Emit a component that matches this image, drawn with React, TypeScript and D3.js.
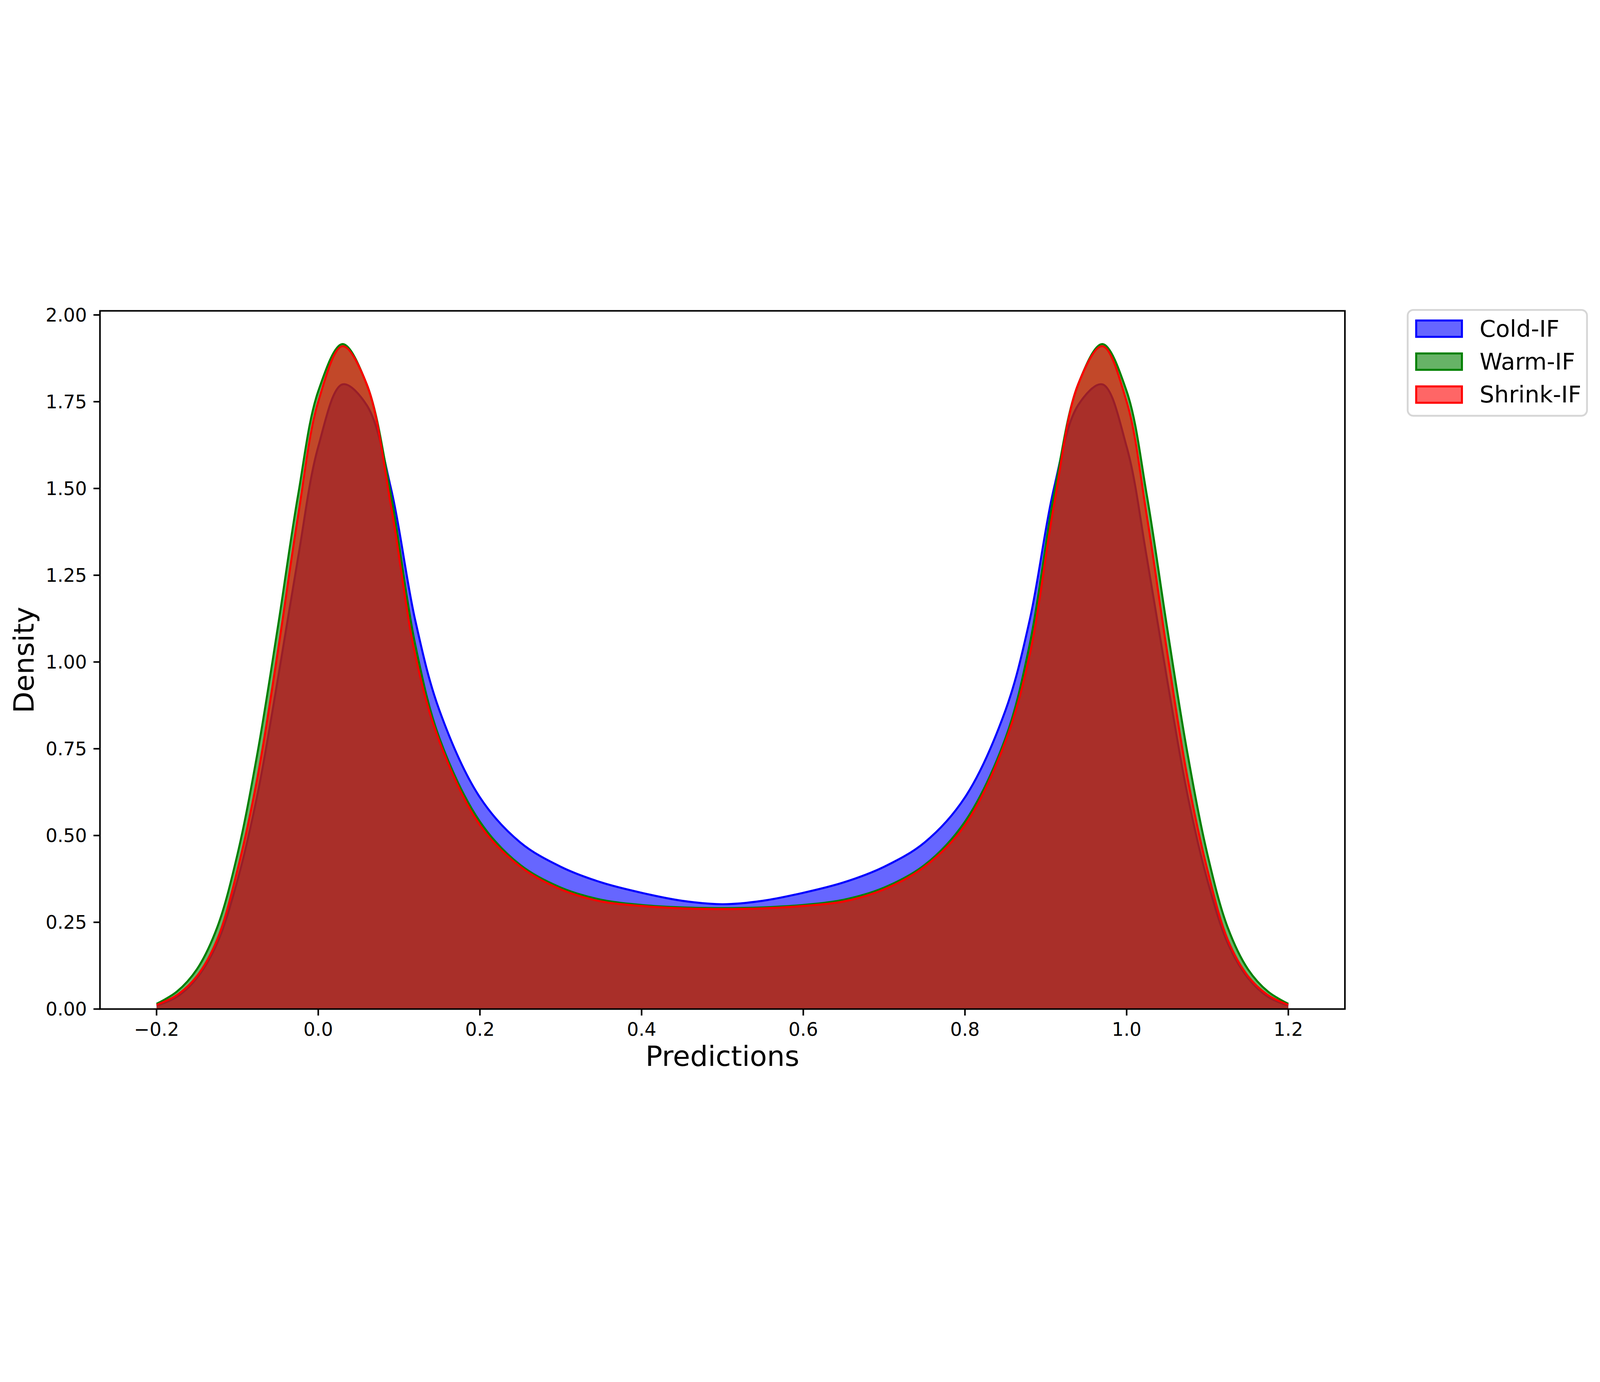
import React from 'react';
import * as d3 from 'd3';

const xGrid = [-0.2, -0.175, -0.15, -0.125, -0.1, -0.075, -0.05, -0.025, 0, 0.03, 0.06, 0.09, 0.12, 0.15, 0.2, 0.25, 0.3, 0.35, 0.4, 0.45, 0.5,
  0.55, 0.6, 0.65, 0.7, 0.75, 0.8, 0.85, 0.88, 0.91, 0.94, 0.97, 1.0, 1.025, 1.05, 1.075, 1.1, 1.125, 1.15, 1.175, 1.2];

const coldIF = [0.01, 0.035, 0.09, 0.19, 0.37, 0.62, 0.95, 1.3, 1.62, 1.8, 1.74, 1.5, 1.12, 0.86, 0.61, 0.48, 0.41, 0.365, 0.335, 0.312, 0.302,
  0.312, 0.335, 0.365, 0.41, 0.48, 0.61, 0.86, 1.12, 1.5, 1.74, 1.8, 1.62, 1.3, 0.95, 0.62, 0.37, 0.19, 0.09, 0.035, 0.01];

const warmIF = [0.015, 0.05, 0.115, 0.235, 0.445, 0.74, 1.1, 1.48, 1.78, 1.916, 1.8, 1.48, 1.05, 0.78, 0.54, 0.415, 0.35, 0.315, 0.3, 0.293, 0.291,
  0.293, 0.3, 0.315, 0.35, 0.415, 0.54, 0.78, 1.05, 1.48, 1.8, 1.916, 1.78, 1.48, 1.1, 0.74, 0.445, 0.235, 0.115, 0.05, 0.015];

const shrinkIF = [0.012, 0.04, 0.095, 0.2, 0.4, 0.67, 1.03, 1.42, 1.75, 1.91, 1.8, 1.45, 1.02, 0.77, 0.53, 0.41, 0.345, 0.31, 0.297, 0.29, 0.288,
  0.29, 0.297, 0.31, 0.345, 0.41, 0.53, 0.77, 1.02, 1.45, 1.8, 1.91, 1.75, 1.42, 1.03, 0.67, 0.4, 0.2, 0.095, 0.04, 0.012];

const seriesNames = ['Cold-IF', 'Warm-IF', 'Shrink-IF'];
const seriesColors = ['#0000ff', '#008000', '#ff0000'];
const seriesValues = [coldIF, warmIF, shrinkIF];

const xTicks = [-0.2, 0, 0.2, 0.4, 0.6, 0.8, 1.0, 1.2];
const yTicks = [0, 0.25, 0.5, 0.75, 1.0, 1.25, 1.5, 1.75, 2.0];

const W = 7138, H = 3537;
const left = 446, right = 6000, top = 73, bottom = 3187;
const font = 'DejaVu Sans';

export default function App() {
  const x = d3.scaleLinear().domain([-0.27, 1.27]).range([left, right]);
  const y = d3.scaleLinear().domain([0, 2.0118]).range([bottom, top]);
  const curve = d3.curveCatmullRom.alpha(0.5);
  const area = d3.area<number>()
    .x((_, i) => x(xGrid[i]))
    .y0(y(0))
    .y1(d => y(d))
    .curve(curve);
  const line = d3.line<number>()
    .x((_, i) => x(xGrid[i]))
    .y(d => y(d))
    .curve(curve);
  const fmtX = (v: number) => d3.format('.1f')(v).replace('-', '\u2212');

  return (
    <svg viewBox={`0 0 ${W} ${H}`} style={{ position: 'fixed', left: 0, top: 0, width: '100vw', height: '100vh', background: '#fff' }}
      fontFamily={font}>
      <defs>
        <clipPath id="plot"><rect x={left} y={top} width={right - left} height={bottom - top} /></clipPath>
      </defs>
      <rect width={W} height={H} fill="#fff" />
      <g clipPath="url(#plot)">
        {seriesValues.map((vals, k) => (
          <g key={k}>
            <path d={area(vals) as string} fill={seriesColors[k]} fillOpacity={0.6} />
            <path d={line(vals) as string} fill="none" stroke={seriesColors[k]} strokeWidth={9} />
          </g>
        ))}
      </g>
      <rect x={left} y={top} width={right - left} height={bottom - top} fill="none" stroke="#000" strokeWidth={7} />
      {xTicks.map(t => (
        <g key={t} transform={`translate(${x(t)},${bottom})`}>
          <line y2={29} stroke="#000" strokeWidth={7} />
          <text y={29 + 29 + 62} textAnchor="middle" fontSize={83}>{fmtX(t)}</text>
        </g>
      ))}
      {yTicks.map(t => (
        <g key={t} transform={`translate(${left},${y(t)})`}>
          <line x2={-29} stroke="#000" strokeWidth={7} />
          <text x={-29 - 29} dy="0.35em" textAnchor="end" fontSize={83}>{d3.format('.2f')(t)}</text>
        </g>
      ))}
      <text x={(left + right) / 2} y={3440} textAnchor="middle" fontSize={125}>Predictions</text>
      <text transform={`translate(150,${(top + bottom) / 2}) rotate(-90)`} textAnchor="middle" fontSize={125}>Density</text>
      <rect x={6280} y={69} width={800} height={472} rx={25} fill="#fff" stroke="#d6d6d6" strokeWidth={8} />
      {seriesNames.map((name, k) => (
        <g key={name} transform={`translate(0,${k * 147})`}>
          <rect x={6318} y={116} width={204} height={73} fill={seriesColors[k]} fillOpacity={0.6} stroke={seriesColors[k]} strokeWidth={9} />
          <text x={6601} y={188} fontSize={103}>{name}</text>
        </g>
      ))}
    </svg>
  );
}
